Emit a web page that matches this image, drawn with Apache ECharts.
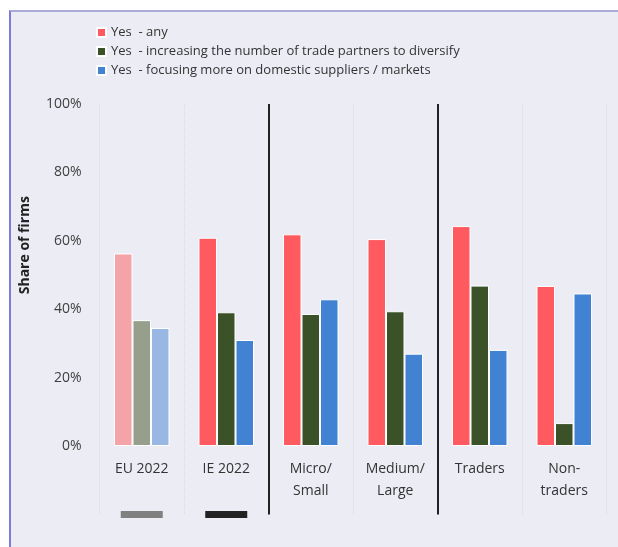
<!DOCTYPE html>
<html>
<head>
<meta charset="utf-8">
<script src="https://cdn.jsdelivr.net/npm/echarts@6/dist/echarts.min.js"></script>
<style>
  html, body { margin: 0; padding: 0; background: #fff; }
  #frame {
    position: absolute; left: 9px; top: 10px; width: 609px; height: 537px;
    background: #ececf5; border-left: 2px solid #7c7cd8; border-top: 2px solid #aaaadb;
    box-sizing: border-box;
  }
  #chart { position: absolute; left: 0; top: 0; width: 618px; height: 547px; }
</style>
</head>
<body>
<div id="frame"></div>
<div id="chart"></div>
<script>
// groups along the x-axis
const categories = ['EU 2022', 'IE 2022', 'Micro/\nSmall', 'Medium/\nLarge', 'Traders', 'Non-\ntraders']

// share of firms (%) per answer
const yesAny = [56.3, 60.9, 61.9, 60.5, 64.3, 46.8]
const yesDiversify = [36.8, 39.1, 38.6, 39.4, 46.9, 6.7]
const yesDomestic = [34.5, 31.0, 42.9, 27.0, 28.1, 44.6]

const seriesNames = [
  'Yes  - any',
  'Yes  - increasing the number of trade partners to diversify',
  'Yes  - focusing more on domestic suppliers / markets'
]

const yTicks = [0, 20, 40, 60, 80, 100]
// solid separators between the group blocks, in category-boundary units
const separatorAt = [2, 4]
// small marker bars under the first two groups
const markerEU = [['EU 2022', -20]]
const markerIE = [['IE 2022', -20]]

const colors = ['#ff5a5f', '#3b5228', '#4182d2']
// EU average bars are drawn faded
const fadedColors = ['#f4a3a9', '#959f8b', '#98b7e3']

function withFade(values, i) {
  return values.map(function (v, k) {
    return k === 0 ? { value: v, itemStyle: { color: fadedColors[i] } } : v
  })
}

const font = '"Open Sans", "Noto Sans", sans-serif'

// plot area: 0% .. 100% spans 342px; the strip below 0% (down to -20%) holds
// the category labels, the dotted separators and the two marker bars
const gridTop = 104
const gridBottom = 32.6
const pxPerUnit = 3.42

const chart = echarts.init(document.getElementById('chart'))
chart.setOption({
  backgroundColor: 'transparent',
  color: colors,
  textStyle: { fontFamily: font },
  legend: {
    data: seriesNames,
    orient: 'vertical',
    left: 91, top: 21,
    itemWidth: 9, itemHeight: 9, itemGap: 6,
    icon: 'rect',
    textStyle: { fontSize: 13, color: '#333', fontFamily: font }
  },
  grid: { left: 99.5, right: 11.5, top: gridTop, bottom: gridBottom, outerBoundsMode: 'none' },
  xAxis: [
    {
      type: 'category', data: categories,
      // lift the (invisible) axis up to the 0% line so labels hang just below the bars
      offset: -20 * pxPerUnit,
      axisLine: { show: false, onZero: false },
      axisTick: { show: false },
      axisLabel: { margin: 12, fontSize: 14, lineHeight: 22, color: '#333', fontFamily: font },
      splitLine: { show: true, lineStyle: { color: '#d8d8e3', type: 'dotted', width: 1 } }
    },
    {
      // hidden helper axis for the solid group separators
      type: 'value', min: 0, max: 6, show: false
    }
  ],
  yAxis: {
    type: 'value', min: -20, max: 100, interval: 20,
    name: 'Share of firms',
    nameLocation: 'middle', nameGap: 67,
    nameTextStyle: { fontSize: 14, fontWeight: 'bold', color: '#222', fontFamily: font, padding: [0, 0, 0, 128] },
    axisLine: { show: false }, axisTick: { show: false },
    splitLine: { show: false },
    axisLabel: {
      margin: 18, fontSize: 14, color: '#404040', fontFamily: font,
      formatter: function (v) { return yTicks.indexOf(v) === -1 ? '' : v + '%' }
    }
  },
  series: [
    {
      name: seriesNames[0], type: 'bar', data: withFade(yesAny, 0),
      barWidth: 18.5, barGap: '0%',
      itemStyle: { borderColor: '#fff', borderWidth: 1 }
    },
    {
      name: seriesNames[1], type: 'bar', data: withFade(yesDiversify, 1),
      barWidth: 18.5, barGap: '0%',
      itemStyle: { borderColor: '#fff', borderWidth: 1 }
    },
    {
      name: seriesNames[2], type: 'bar', data: withFade(yesDomestic, 2),
      barWidth: 18.5, barGap: '0%',
      itemStyle: { borderColor: '#fff', borderWidth: 1 }
    },
    {
      name: 'EU marker', type: 'scatter', data: markerEU, clip: false, silent: true,
      symbol: 'rect', symbolSize: [42, 7], itemStyle: { color: '#808080', opacity: 1 }
    },
    {
      name: 'IE marker', type: 'scatter', data: markerIE, clip: false, silent: true,
      symbol: 'rect', symbolSize: [42, 7], itemStyle: { color: '#222', opacity: 1 }
    },
    {
      name: 'separators', type: 'line', xAxisIndex: 1, data: [], silent: true,
      markLine: {
        silent: true, symbol: 'none',
        label: { show: false },
        lineStyle: { color: '#222', width: 2, type: 'solid' },
        data: separatorAt.map(function (x) { return { xAxis: x } })
      }
    }
  ]
})
</script>
</body>
</html>
